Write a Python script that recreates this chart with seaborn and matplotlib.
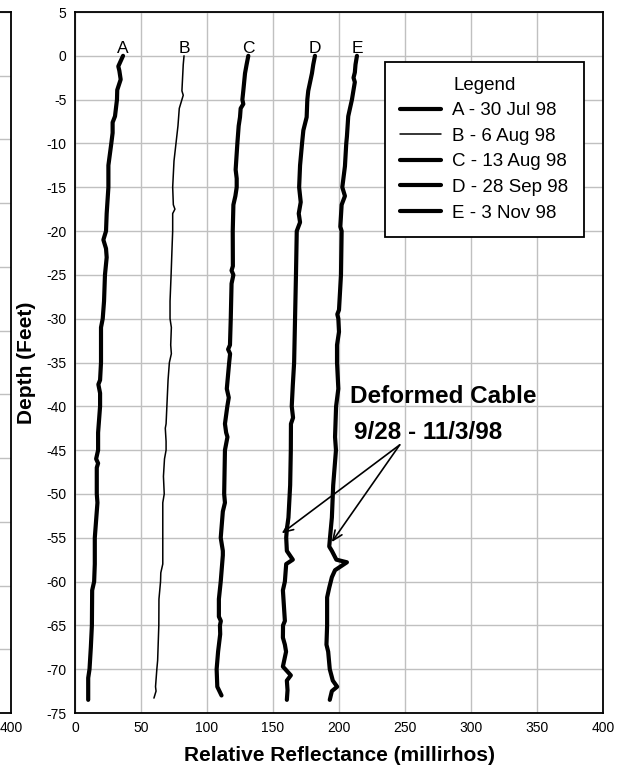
import matplotlib
matplotlib.use("Agg")
import matplotlib.pyplot as plt
import seaborn as sns
import pandas as pd

# survey names and line widths
surveys = ["A - 30 Jul 98", "B - 6 Aug 98", "C - 13 Aug 98", "D - 28 Sep 98", "E - 3 Nov 98"]
letters = ["A", "B", "C", "D", "E"]
widths = [3.0, 1.1, 3.0, 3.0, 3.0]

# depth (ft) / relative reflectance (millirhos)
depth_a = [0, -1.2, -1.7, -2.7, -3.9, -5, -6.9, -7.6, -8.8, -10, -12.5, -15, -18, -20, -21, -22, -23,
           -25, -28, -30, -31, -35, -37, -37.5, -38.5, -40, -43, -45, -46, -46.5, -47, -50, -51, -52,
           -55, -58, -60, -61, -65, -67.5, -70, -71, -73.5]
refl_a = [36.4, 32.8, 33.6, 34.6, 32, 31.8, 30.3, 28.5, 28.5, 27.5, 25.3, 25.3, 24, 23.5, 21.5, 23.5, 24,
          22.7, 22, 21, 19.7, 19.7, 19, 17.7, 19, 19, 17.5, 17.5, 16, 17.5, 16.5, 16.5, 17, 16.5,
          15, 15, 14.5, 13, 12.8, 12, 11, 10, 10]

depth_b = [0, -1, -4, -4.5, -5.5, -6, -8, -10, -12, -15, -17, -17.5, -18, -20, -22, -25, -28, -30, -31,
           -33, -34, -35, -37, -40, -42, -42.5, -44, -45, -46, -48, -50, -51, -55, -58, -59, -60, -62,
           -65, -69, -70, -72, -72.5, -73.3]
refl_b = [82.6, 82, 81, 82, 80, 79, 78, 76.5, 75, 74, 74.5, 75.7, 74, 74, 73.5, 72.8, 72, 72, 73,
          72.5, 73, 71.5, 70.5, 69.6, 69, 68.4, 69, 69, 67.8, 67, 67.6, 66.5, 66.5, 66.5, 65, 64.8, 63.6,
          63.5, 62.6, 62, 61, 61.4, 59.8]

depth_c = [0, -1, -2, -4, -5, -5.5, -6, -7, -8, -10, -13, -14, -15, -16, -17, -20, -24, -24.5, -25, -26,
           -30, -33, -33.5, -34, -35, -38, -39, -40, -42, -43, -43.5, -45, -50, -51, -52, -55, -56.5, -57,
           -60, -62, -64, -64.5, -65, -66, -68, -70, -72, -73]
refl_c = [131.3, 130, 128.8, 127.5, 126.8, 127.5, 125.5, 125, 124, 123, 121.7, 122.5, 122.5, 121.5, 120,
          119.5, 119.6, 118.6, 120, 118.6, 118, 117.4, 116, 117.5, 116.8, 115, 116.5, 115.4, 113.6, 114.5,
          115.5, 113.6, 113, 113.6, 112, 110.4, 112, 112, 110.4, 109, 109, 110.5, 109.8, 110, 108.4,
          107.3, 107.8, 111]

depth_d = [0, -1, -2, -4, -5, -7, -8.5, -10, -12.5, -15, -16.7, -18, -19, -20, -25, -30, -35, -37.6, -40,
           -41.3, -42, -45, -49, -52.7, -54, -55, -56.5, -57.5, -58, -60, -61, -64.5, -65, -66.4, -67.2,
           -68, -69.7, -70.7, -71.3, -72.4, -73.5]
refl_d = [181.8, 180.5, 179.5, 176.7, 176, 175.5, 173, 172, 170.5, 169.8, 171, 169.5, 170.5, 168, 167.4,
          166.7, 166, 165, 164.2, 165.2, 163.6, 163.5, 163, 161.7, 160.5, 160, 160.5, 165, 160, 159, 157.5,
          159, 157.6, 157.5, 159, 159.9, 157.5, 163.5, 160.5, 161, 160.5]

depth_e = [0, -1, -1.9, -2.5, -3, -3.9, -5, -6.9, -9.2, -10, -12.6, -15, -16, -17, -19.5, -20, -25, -29,
           -29.5, -30, -31.5, -33, -35, -38, -40, -43.5, -45, -49, -52.7, -54.8, -56, -56.5, -57.5, -57.8,
           -58.7, -59.5, -60.7, -61.8, -65, -67.2, -68, -70, -71.3, -72, -72.5, -73.5]
refl_e = [213.6, 212.5, 212, 211, 212, 211, 209.8, 207, 206, 205.5, 204.5, 202.5, 204.5, 202, 201, 202,
          201.5, 200, 198.7, 199.5, 200, 198.5, 198.5, 199.5, 197.8, 197, 197.7, 195.6, 194.6, 193.3,
          192.6, 194.6, 198, 206, 197, 194.6, 192.6, 191, 191, 190.5, 191.8, 193, 195.3, 198.6, 194.6, 193]

depths = [depth_a, depth_b, depth_c, depth_d, depth_e]
refls = [refl_a, refl_b, refl_c, refl_d, refl_e]

sns.set_style("white")
plt.rcParams["font.family"] = ["Liberation Sans", "DejaVu Sans"]
plt.rcParams["axes.unicode_minus"] = False
for key in ["text.color", "axes.labelcolor", "xtick.color", "ytick.color"]:
    plt.rcParams[key] = "black"

W, H = 623, 770
fig = plt.figure(figsize=(W / 100, H / 100), dpi=100)

# main panel
ax = fig.add_axes([75 / W, 1 - 713 / H, 528 / W, 701 / H])
# neighbouring panel, mostly cut off at the left edge
left = fig.add_axes([-517 / W, 1 - 713 / H, 528 / W, 701 / H])

grid_kw = dict(color="#c0c0c0", linewidth=1.0)

left.set_xlim(0, 400)
left.set_ylim(0, 11)
left.set_xticks([400])
left.set_xticklabels(["400"])
left.set_yticks(range(12))
left.set_yticklabels([])
left.grid(axis="y", **grid_kw)
left.tick_params(length=0, labelsize=10, pad=6)
for side in ["top", "bottom", "right"]:
    left.spines[side].set_color("black")
    left.spines[side].set_linewidth(1.3)
left.spines["left"].set_visible(False)

for name, d, r, lw in zip(surveys, depths, refls, widths):
    df = pd.DataFrame({"depth": d, "refl": r})
    sns.lineplot(data=df, x="refl", y="depth", sort=False, estimator=None,
                 color="black", linewidth=lw, label=name, ax=ax)

for letter, r in zip(letters, refls):
    ax.text(r[0], 0.0, letter, ha="center", va="bottom", fontsize=12.5)

ax.set_xlim(0, 400)
ax.set_ylim(-75, 5)
ax.set_xticks(range(0, 401, 50))
ax.set_yticks(range(-75, 6, 5))
ax.grid(True, **grid_kw)
ax.set_axisbelow(True)
ax.tick_params(length=0, labelsize=10, pad=6)
for side in ax.spines:
    ax.spines[side].set_color("black")
    ax.spines[side].set_linewidth(1.3)

ax.set_xlabel("Relative Reflectance (millirhos)", fontsize=15, fontweight="bold", labelpad=8)
ax.set_ylabel("Depth (Feet)", fontsize=15, fontweight="bold", labelpad=7.5)

leg = ax.legend(title="Legend", loc="upper left", bbox_to_anchor=(0.587, 0.929),
                fontsize=13.5, title_fontsize=13.5, frameon=True, fancybox=False,
                edgecolor="black", framealpha=1, handlelength=2.2, handletextpad=0.6,
                labelspacing=0.45, borderpad=0.8, borderaxespad=0)
leg.get_frame().set_linewidth(1.3)

# deformed cable note
ax.text(208, -38.9, "Deformed Cable", ha="left", va="center", fontsize=17.5, fontweight="bold")
ax.text(211, -43.0, "9/28 - 11/3/98", ha="left", va="center", fontsize=17.5, fontweight="bold")
for tip in [(156.6, -54.5), (194.5, -55.5)]:
    ax.annotate("", xy=tip, xytext=(246, -44.4),
                arrowprops=dict(arrowstyle="->,head_length=0.7,head_width=0.3",
                                color="black", lw=1.2, shrinkA=0, shrinkB=0))

fig.savefig("out.png", dpi=100)
